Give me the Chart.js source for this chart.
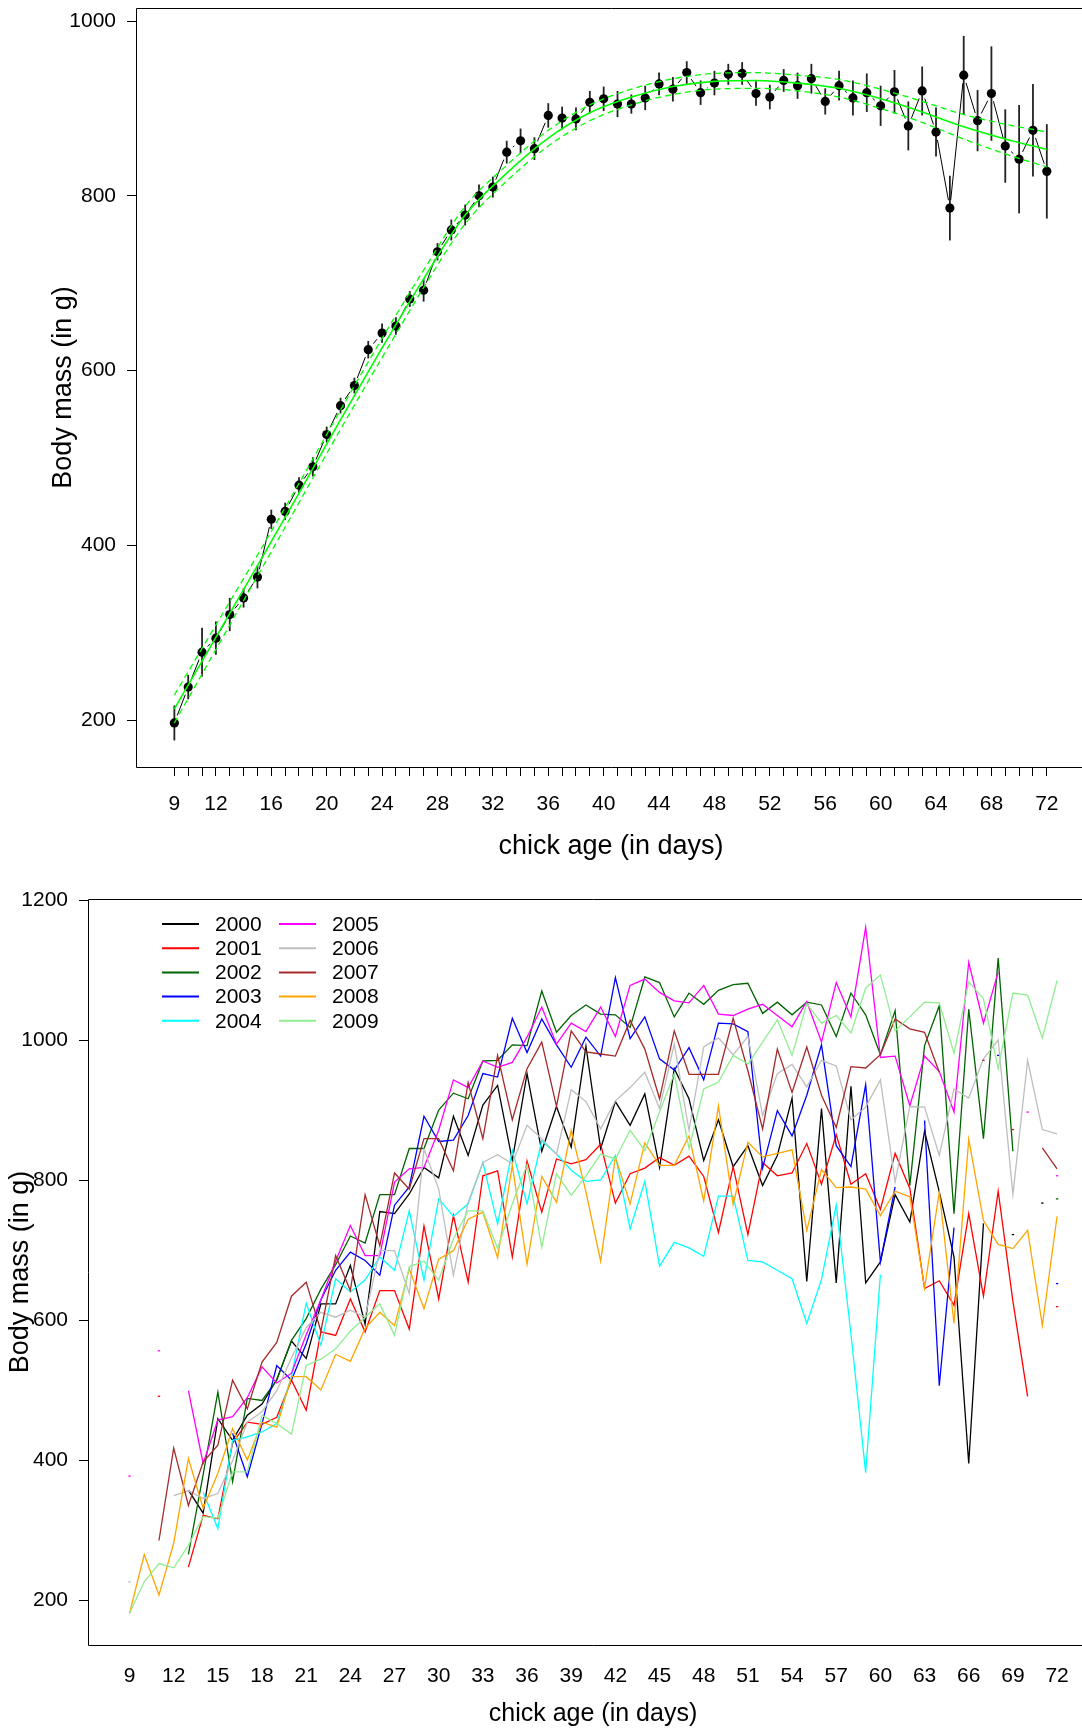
<!DOCTYPE html>
<html>
<head>
<meta charset="utf-8">
<title>Chick growth</title>
<script src="https://cdn.jsdelivr.net/npm/chart.js@4.4.1/dist/chart.umd.min.js"></script>
<style>
  html, body { margin: 0; padding: 0; background: #fff; overflow: hidden; }
  #wrap { position: relative; width: 1082px; height: 1729px; overflow: hidden; }
  canvas { position: absolute; left: 0; }
  #growth { top: 0; }
  #years { top: 865px; }
</style>
</head>
<body>
<div id="wrap">
  <!-- the plotting boxes run a little past the right edge of the page -->
  <canvas id="growth" width="1086" height="865"></canvas>
  <canvas id="years" width="1098" height="864"></canvas>
</div>
<script>
// ---- data -------------------------------------------------------------
const ageDays = [9,10,11,12,13,14,15,16,17,18,19,20,21,22,23,24,25,26,27,28,
  29,30,31,32,33,34,35,36,37,38,39,40,41,42,43,44,45,46,47,48,
  49,50,51,52,53,54,55,56,57,58,59,60,61,62,63,64,65,66,67,68,69,70,71,72];

// mean body mass per day (all seasons) and half-width of its interval
const meanMass = [197,238,278,294,321,340,364,430,439,469,
  490,527,560,583,624,643,651,682,692,736,
  761,778,800,810,850,863,854,892,889,888,
  907,911,905,905,912,928,922,941,918,929,
  939,940,917,913,932,926,934,908,926,912,
  918,903,919,880,920,873,786,938,886,917,
  857,842,875,828];
const ciHalf = [20,14,28,19,19,11,13,11,10,9,
  11,9,9,9,10,11,10,9,13,10,
  12,12,13,12,13,14,13,14,13,13,
  13,14,15,11,14,13,14,13,14,14,
  12,13,14,14,13,15,17,15,17,20,
  22,23,25,28,28,28,37,45,35,54,
  42,62,53,54];

// fitted growth curve with its confidence band
const fitDays  = [9,12,15,18,21,24,27,30,33,36,39,42,45,48,51,54,57,60,63,66,69,72];
const fitMean  = [213,295,377,460,544,626,705,778,826,866,895,913,925,931,932,929,923,911,896,879,865,853];
const fitUpper = [229,309,389,471,555,637,715,788,835,875,904,922,934,940,941,938,933,922,908,893,882,873];
const fitLower = [197,281,365,449,533,615,695,768,817,857,886,904,916,922,923,920,913,900,884,865,848,833];

const topAgeLabels    = [9,12,16,20,24,28,32,36,40,44,48,52,56,60,64,68,72];
const topMassTicks    = [200,400,600,800,1000];
const bottomAgeLabels = [9,12,15,18,21,24,27,30,33,36,39,42,45,48,51,54,57,60,63,66,69,72];
const bottomMassTicks = [200,400,600,800,1000,1200];

// per-season daily means
const seasons = ['2000','2001','2002','2003','2004','2005','2006','2007','2008','2009'];
const seasonColors = ['#000000','#ff0000','#006400','#0000ff','#00ffff',
                      '#ff00ff','#bebebe','#a52a2a','#ffa500','#90ee90'];
const m2000 = [null,null,null,null,358,325,460,429,465,481,
  516,571,546,624,624,679,595,756,753,781,
  819,804,892,836,908,936,829,953,842,906,
  848,992,846,913,879,924,819,960,917,829,
  887,820,850,793,836,918,656,903,654,935,
  654,684,780,741,871,784,691,396,739,null,
  723,null,768,null];
const m2001 = [null,null,492,null,248,322,317,425,455,452,
  462,515,472,584,579,631,584,643,643,588,
  735,631,750,655,807,814,691,828,755,831,
  824,830,852,768,810,818,833,822,835,806,
  726,820,723,826,807,811,853,795,866,795,
  810,759,839,789,646,657,622,753,635,785,
  628,492,null,620];
const m2002 = [null,null,null,null,266,380,498,370,489,486,
  515,572,603,645,680,721,711,780,780,846,
  846,901,925,917,971,972,994,993,1071,1012,
  1036,1051,1038,1037,1019,1091,1083,1034,1068,1052,
  1072,1080,1082,1039,1055,1037,1055,1051,1006,1068,
  1037,980,1043,793,993,1050,753,1045,860,1118,
  842,null,null,774];
const m2003 = [null,null,null,null,null,null,null,439,377,453,
  536,515,567,630,672,698,686,665,765,791,
  892,856,858,893,953,948,1032,983,1031,994,
  962,1005,978,1090,1003,1034,974,958,990,944,
  1025,1024,1013,818,900,864,922,994,850,820,
  937,684,791,null,886,507,733,null,null,979,
  null,null,null,653];
const m2004 = [null,null,null,null,null,355,303,429,434,441,
  453,520,625,565,660,641,658,691,672,757,
  658,774,749,767,826,738,843,767,857,838,
  815,799,801,836,731,799,678,712,704,692,
  778,778,686,684,672,660,596,659,765,581,
  383,666,null,null,null,null,null,null,null,null,
  null,null,null,null];
const m2005 = [378,null,557,null,500,396,458,463,490,534,
  511,525,580,630,685,736,693,693,798,817,
  819,872,944,933,971,962,969,1005,1048,995,
  1025,1013,1048,1006,1079,1088,1069,1057,1054,1079,
  1038,1036,1045,1052,1036,1020,1056,998,1083,1034,
  1162,976,978,907,978,956,898,1112,1025,1098,
  null,898,null,807];
const m2006 = [227,null,null,350,357,346,353,400,455,470,
  500,547,590,612,605,615,605,700,700,639,
  845,788,665,769,826,837,824,879,860,838,
  930,913,874,914,933,955,903,995,872,991,
  1004,980,1006,893,953,966,934,972,964,887,
  905,944,798,906,905,836,931,918,974,1001,
  780,972,873,867];
const m2007 = [null,null,286,418,336,398,422,515,474,541,
  569,635,655,585,693,643,780,707,811,788,
  860,860,814,940,860,979,887,960,998,906,
  1014,984,981,978,1029,988,917,1014,952,952,
  952,1032,957,874,988,926,991,922,876,963,
  961,980,1031,1017,1012,955,null,null,972,null,
  873,null,847,817];
const m2008 = [182,266,208,282,403,332,382,446,401,455,
  448,520,520,501,552,542,589,612,593,674,
  617,688,700,745,755,690,822,681,806,769,
  872,784,685,834,767,854,822,822,864,771,
  907,766,855,834,839,844,729,816,790,791,
  788,750,785,777,647,784,596,859,743,709,
  703,729,593,749];
const m2009 = [182,227,253,247,279,320,318,384,384,465,
  453,438,536,545,560,585,605,624,579,677,
  685,658,717,757,757,703,767,823,705,810,
  779,807,838,831,872,843,898,953,846,931,
  941,979,967,998,1030,979,1053,1025,1036,1011,
  1075,1094,1014,1034,1055,1054,982,1084,1060,960,
  1068,1065,1004,1086];
const seasonMass = [m2000,m2001,m2002,m2003,m2004,m2005,m2006,m2007,m2008,m2009];

// ---- shared styling ---------------------------------------------------
const FONT = "'Liberation Sans', Arial, Helvetica, sans-serif";
Chart.defaults.font.family = FONT;
Chart.defaults.color = '#000';

const tickGrid = { display: true, drawOnChartArea: false, drawTicks: true,
                   tickLength: 9, color: '#000', lineWidth: 1 };
const plainLabel = v => String(v);

// frame: top, left and bottom sides of the plotting region
const framePlugin = {
  id: 'frame',
  afterDatasetsDraw(chart) {
    const { ctx, chartArea: a, width } = chart;
    const l = Math.round(a.left) + 0.5, t = Math.round(a.top) + 0.5, b = Math.round(a.bottom) + 0.5;
    ctx.save();
    ctx.strokeStyle = '#000';
    ctx.lineWidth = 1;
    ctx.beginPath();
    ctx.moveTo(width + 2, t);
    ctx.lineTo(l, t);
    ctx.lineTo(l, b);
    ctx.lineTo(width + 2, b);
    ctx.stroke();
    ctx.restore();
  }
};

// vertical interval bars and the broken line joining the daily means
const intervalPlugin = {
  id: 'intervals',
  beforeDatasetsDraw(chart) {
    const { ctx, scales: { x, y } } = chart;
    ctx.save();
    ctx.strokeStyle = '#222';
    ctx.lineWidth = 1.8;
    ageDays.forEach((d, i) => {
      const px = x.getPixelForValue(d);
      ctx.beginPath();
      ctx.moveTo(px, y.getPixelForValue(meanMass[i] - ciHalf[i]));
      ctx.lineTo(px, y.getPixelForValue(meanMass[i] + ciHalf[i]));
      ctx.stroke();
    });
    const pts = chart.getDatasetMeta(0).data;
    const gap = 8;
    ctx.strokeStyle = '#000';
    ctx.lineWidth = 1;
    for (let i = 1; i < pts.length; i++) {
      const a = pts[i - 1], b = pts[i];
      const dx = b.x - a.x, dy = b.y - a.y, len = Math.hypot(dx, dy);
      if (len <= 2 * gap) continue;
      const ux = dx / len, uy = dy / len;
      ctx.beginPath();
      ctx.moveTo(a.x + ux * gap, a.y + uy * gap);
      ctx.lineTo(b.x - ux * gap, b.y - uy * gap);
      ctx.stroke();
    }
    ctx.restore();
  }
};

// two-column season key inside the lower panel
const seasonKeyPlugin = {
  id: 'seasonKey',
  afterDraw(chart) {
    const { ctx, chartArea: a } = chart;
    ctx.save();
    ctx.font = '21px ' + FONT;
    ctx.textBaseline = 'middle';
    ctx.textAlign = 'left';
    seasons.forEach((name, i) => {
      const col = Math.floor(i / 5), row = i % 5;
      const x0 = a.left + 74 + col * 117;
      const y0 = a.top + 25 + row * 24.2;
      ctx.strokeStyle = seasonColors[i];
      ctx.lineWidth = 2;
      ctx.beginPath();
      ctx.moveTo(x0, y0);
      ctx.lineTo(x0 + 37, y0);
      ctx.stroke();
      ctx.fillStyle = '#000';
      ctx.fillText(name, x0 + 53, y0 + 1);
    });
    ctx.restore();
  }
};

const pts = (xs, ys) => xs.map((d, i) => ({ x: d, y: ys[i] }));

// ---- upper panel: pooled growth curve ----------------------------------
new Chart(document.getElementById('growth'), {
  type: 'scatter',
  data: {
    datasets: [
      { label: 'mean', data: pts(ageDays, meanMass), showLine: false,
        pointRadius: 4.6, pointBackgroundColor: '#000', pointBorderWidth: 0, order: 5 },
      { label: 'lower', data: pts(fitDays, fitLower), showLine: true, borderColor: '#00ff00',
        borderWidth: 1.3, borderDash: [6, 4], pointRadius: 0, cubicInterpolationMode: 'monotone', order: 1 },
      { label: 'upper', data: pts(fitDays, fitUpper), showLine: true, borderColor: '#00ff00',
        borderWidth: 1.3, borderDash: [6, 4], pointRadius: 0, cubicInterpolationMode: 'monotone', order: 1 },
      { label: 'fit', data: pts(fitDays, fitMean), showLine: true, borderColor: '#00ff00',
        borderWidth: 1.6, pointRadius: 0, cubicInterpolationMode: 'monotone', order: 0 }
    ]
  },
  options: {
    responsive: false,
    animation: false,
    devicePixelRatio: 1,
    layout: { autoPadding: false, padding: { top: 8, left: 0, right: 0, bottom: 0 } },
    plugins: { legend: { display: false }, tooltip: { enabled: false } },
    scales: {
      x: {
        type: 'linear', min: 6.23, max: 74.83,
        afterBuildTicks: s => { s.ticks = ageDays.map(v => ({ value: v })); },
        ticks: { autoSkip: false, maxRotation: 0, minRotation: 0, padding: 16,
                 font: { size: 21 }, color: '#000',
                 callback: v => topAgeLabels.includes(v) ? String(v) : '' },
        grid: tickGrid,
        border: { display: false },
        title: { display: true, text: 'chick age (in days)', font: { size: 27 },
                 color: '#000', padding: { top: 0, bottom: 2 } },
        afterFit: s => { s.height = 98; s.paddingLeft = 0; s.paddingRight = 0; }
      },
      y: {
        type: 'linear', min: 146.6, max: 1014.9,
        afterBuildTicks: s => { s.ticks = topMassTicks.map(v => ({ value: v })); },
        ticks: { padding: 11, font: { size: 21 }, color: '#000', callback: plainLabel },
        grid: tickGrid,
        border: { display: false },
        title: { display: true, text: 'Body mass (in g)', font: { size: 27 },
                 color: '#000', padding: { top: 47, bottom: 0 } },
        afterFit: s => { s.width = 136; s.paddingTop = 0; s.paddingBottom = 0; }
      }
    }
  },
  plugins: [intervalPlugin, framePlugin]
});

// ---- lower panel: one line per season ----------------------------------
const isolatedRadius = series => c => {
  const j = c.dataIndex;
  if (series[j] == null) return 0;
  const prev = j > 0 ? series[j - 1] : null;
  const next = j < series.length - 1 ? series[j + 1] : null;
  return (prev == null && next == null) ? 1.2 : 0;
};

new Chart(document.getElementById('years'), {
  type: 'line',
  data: {
    datasets: seasons.map((s, i) => ({
      label: s,
      data: pts(ageDays, seasonMass[i]),
      borderColor: seasonColors[i],
      backgroundColor: seasonColors[i],
      borderWidth: 1.3,
      tension: 0,
      spanGaps: false,
      pointStyle: 'line',
      pointRadius: isolatedRadius(seasonMass[i]),
      pointBorderColor: seasonColors[i],
      pointBorderWidth: 1.3,
      order: seasons.length - i
    }))
  },
  options: {
    responsive: false,
    animation: false,
    devicePixelRatio: 1,
    layout: { autoPadding: false, padding: { top: 34, left: 0, right: 0, bottom: 0 } },
    plugins: { legend: { display: false }, tooltip: { enabled: false } },
    scales: {
      x: {
        type: 'linear', min: 6.18, max: 74.78,
        afterBuildTicks: s => { s.ticks = bottomAgeLabels.map(v => ({ value: v })); },
        ticks: { autoSkip: false, maxRotation: 0, minRotation: 0, padding: 19,
                 font: { size: 21 }, color: '#000' },
        grid: { display: false, drawTicks: false },
        border: { display: false },
        title: { display: true, text: 'chick age (in days)', font: { size: 25 },
                 color: '#000', padding: { top: 0, bottom: 0 } },
        afterFit: s => { s.height = 84; s.paddingLeft = 0; s.paddingRight = 0; }
      },
      y: {
        type: 'linear', min: 136.7, max: 1202.4,
        afterBuildTicks: s => { s.ticks = bottomMassTicks.map(v => ({ value: v })); },
        ticks: { padding: 11, font: { size: 21 }, color: '#000', callback: plainLabel },
        grid: tickGrid,
        border: { display: false },
        title: { display: true, text: 'Body mass (in g)', font: { size: 27 },
                 color: '#000', padding: { top: 4, bottom: 0 } },
        afterFit: s => { s.width = 88; s.paddingTop = 0; s.paddingBottom = 0; }
      }
    }
  },
  plugins: [framePlugin, seasonKeyPlugin]
});
</script>
</body>
</html>
